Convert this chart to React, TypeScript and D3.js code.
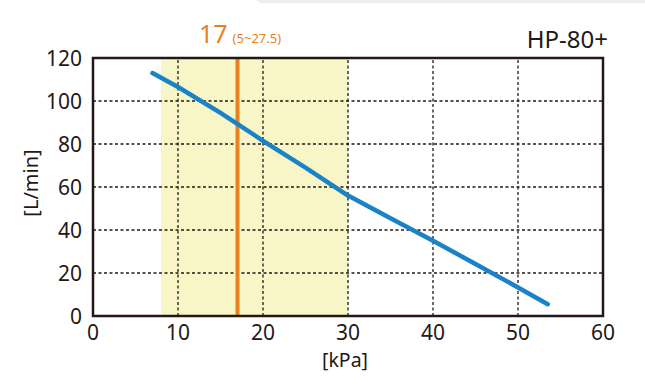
import React from 'react';
import * as d3 from 'd3';

// pressure [kPa] vs flow [L/min]
const pressure = [7, 10, 15, 20, 25, 30, 35, 40, 45, 50, 53.5];
const flow = [113, 106.5, 94.5, 81.5, 69, 56, 45.5, 35, 24.2, 13.3, 5.5];
const xTicks = [0, 10, 20, 30, 40, 50, 60];
const yTicks = [0, 20, 40, 60, 80, 100, 120];
const rangeBand = [8, 30];
const ratedPressure = 17;

const W = 645;
const H = 384;
const ink = '#231815';
const font = "'Noto Sans', sans-serif";

export default function App() {
  const x = d3.scaleLinear().domain([0, 60]).range([93, 603]);
  const y = d3.scaleLinear().domain([0, 120]).range([316, 58]);

  const line = d3.line<number>()
    .x((d, i) => x(pressure[i]))
    .y(d => y(d));

  return (
    <svg width={W} height={H} style={{position: 'absolute', left: 0, top: 0, background: '#fff'}} fontFamily={font}>
      <rect x={255} y={-10} width={420} height={13} rx={8} fill="#ededed" />

      {/* operating range */}
      <rect x={x(rangeBand[0])} y={y(120)} width={x(rangeBand[1]) - x(rangeBand[0])} height={y(0) - y(120)} fill="#f8f5c6" />

      {/* grid */}
      <g stroke={ink} strokeWidth={1.3} strokeDasharray="3,2.5">
        {xTicks.slice(1, -1).map(t => (
          <line key={'gx' + t} x1={x(t)} x2={x(t)} y1={y(0)} y2={y(120)} />
        ))}
        {yTicks.slice(1, -1).map(t => (
          <line key={'gy' + t} x1={x(0)} x2={x(60)} y1={y(t)} y2={y(t)} />
        ))}
      </g>

      <line x1={x(ratedPressure)} x2={x(ratedPressure)} y1={y(0)} y2={y(120)} stroke="#e8821e" strokeWidth={4} />

      <path d={line(flow) || ''} fill="none" stroke="#1a82c6" strokeWidth={4.5} strokeLinecap="round" strokeLinejoin="round" />

      <rect x={x(0)} y={y(120)} width={x(60) - x(0)} height={y(0) - y(120)} fill="none" stroke={ink} strokeWidth={2.5} />

      {/* ticks */}
      <g fill={ink} fontSize={21}>
        {yTicks.map(t => (
          <text key={'ty' + t} x={82} y={y(t) + 7.5} textAnchor="end">{t}</text>
        ))}
        {xTicks.map(t => (
          <text key={'tx' + t} x={x(t)} y={340} textAnchor="middle">{t}</text>
        ))}
        <text x={345} y={367} textAnchor="middle" fontSize={19.5}>[kPa]</text>
        <text transform="translate(38,183) rotate(-90)" textAnchor="middle" fontSize={20}>[L/min]</text>
      </g>

      <text x={199} y={43} fill="#e8821e" fontSize={25}>17
        <tspan fontSize={13} dx={5}>(5~27.5)</tspan>
      </text>
      <text x={608} y={48} fill={ink} fontSize={24} textAnchor="end">HP-80+</text>
    </svg>
  );
}
